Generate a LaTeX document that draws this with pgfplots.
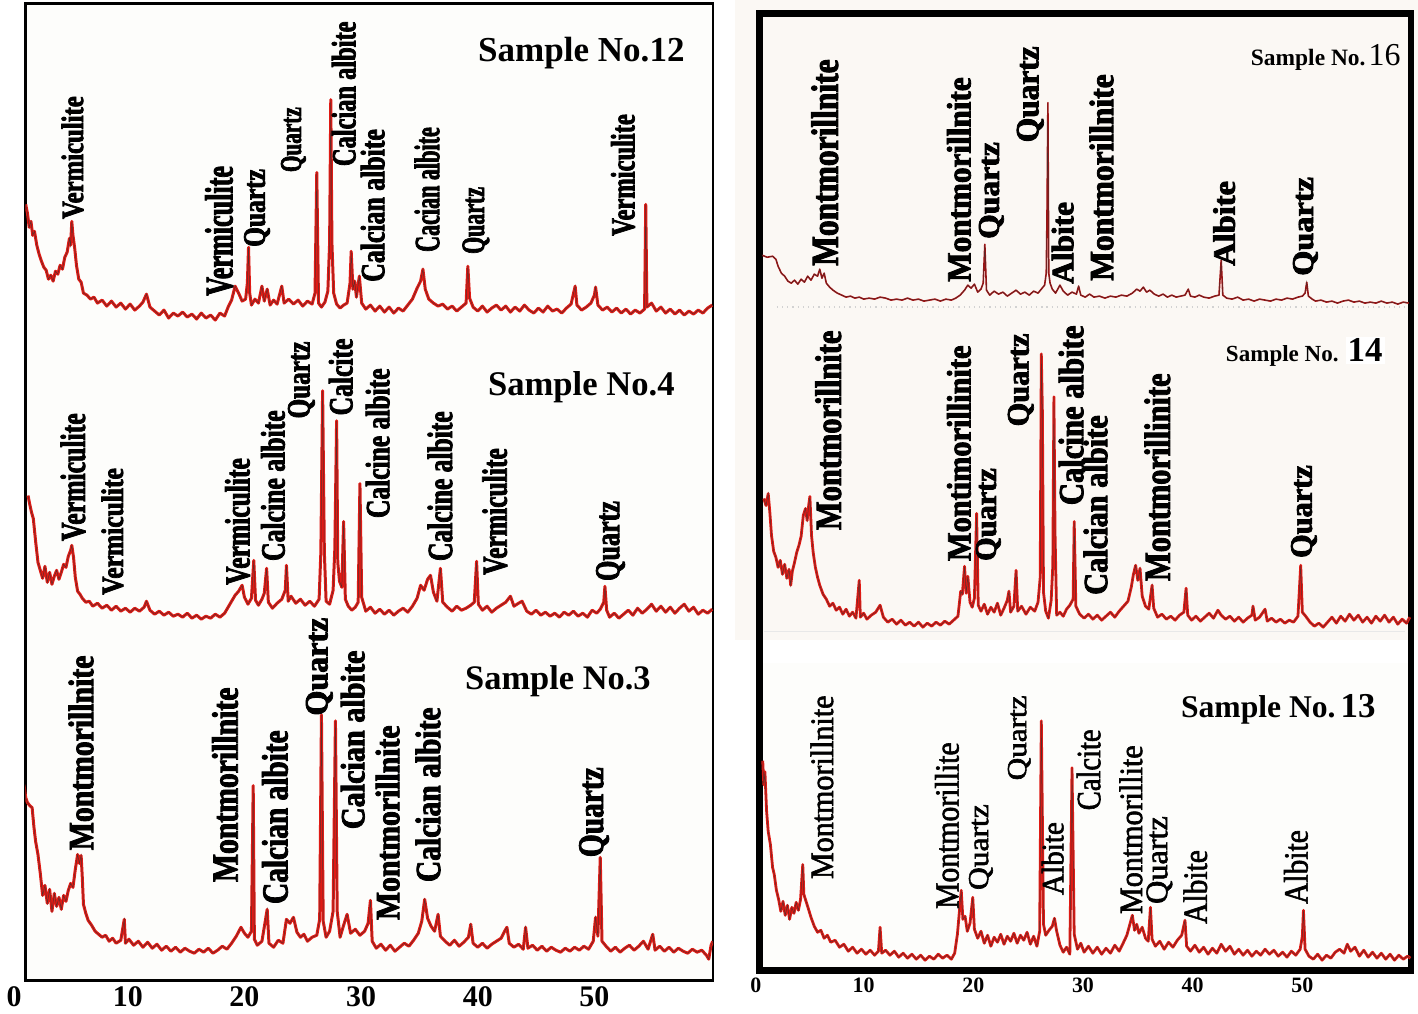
\documentclass[border=0pt]{standalone}
\usepackage{fontspec}
\setmainfont{Liberation Serif}
\newfontfamily\lf{Liberation Serif}[FakeStretch=0.75, BoldFeatures={FakeBold=2.2}]
\newfontfamily\lfr{Liberation Serif}[FakeStretch=0.75, FakeBold=1.6]
\usepackage{graphicx}
\usepackage{pgfplots}
\usepackage{pgfplotstable}
\pgfplotsset{compat=1.18}
\definecolor{trace}{HTML}{E01A14}
\definecolor{tracedk}{HTML}{B01010}
\definecolor{pinkbg}{HTML}{FBF8F4}
\definecolor{offw}{HTML}{FDFDFB}
\newdimen\PX \PX=0.5pt
% rotated peak labels: right edge x, bottom y, length, thickness (image px)
\newcommand{\lab}[5]{\node[rotate=90,anchor=south west,inner sep=0pt] at (#1,#2) {\resizebox*{#3\PX}{#4\PX}{\lf\bfseries #5}};}
\newcommand{\labr}[5]{\node[rotate=90,anchor=south west,inner sep=0pt] at (#1,#2) {\resizebox*{#3\PX}{#4\PX}{\lfr #5}};}
\newcommand{\ttl}[4]{\node[anchor=base west,inner sep=0pt] at (#1,#2) {\resizebox{#3\PX}{!}{\bfseries #4}};}

% ---- Sample 12 / 4 / 3 (left), 16 / 14 / 13 (right); x = 2theta, y = counts (arb.)
\pgfplotstableread[row sep=\\]{
x y\\
1.25 779\\ 1.4 770\\ 1.55 756\\ 1.7 762\\ 1.85 748\\ 2.0 752\\ 2.2 738\\ 2.4 729\\ 2.6 722\\ 2.8 716\\
3.0 713\\ 3.2 704\\ 3.4 708\\ 3.6 702\\ 3.8 712\\ 4.0 709\\ 4.2 718\\ 4.4 714\\ 4.6 726\\ 4.8 731\\
5.0 745\\ 5.1 738\\ 5.2 762\\ 5.3 748\\ 5.45 735\\ 5.6 718\\ 5.8 704\\ 6.0 701\\ 6.2 690\\ 6.5 688\\
6.8 684\\ 7.1 686\\ 7.4 680\\ 7.8 683\\ 8.2 677\\ 8.6 682\\ 9.0 676\\ 9.4 680\\ 9.8 674\\ 10.2 679\\
10.6 673\\ 11.0 677\\ 11.3 681\\ 11.6 689\\ 11.9 676\\ 12.3 672\\ 12.7 668\\ 13.1 673\\ 13.5 665\\ 13.9 670\\
14.3 667\\ 14.7 671\\ 15.1 666\\ 15.5 669\\ 15.9 664\\ 16.3 670\\ 16.7 665\\ 17.1 668\\ 17.5 663\\ 17.9 670\\
18.3 667\\ 18.6 676\\ 18.9 683\\ 19.2 697\\ 19.5 690\\ 19.8 682\\ 20.1 684\\ 20.25 700\\ 20.35 736\\ 20.45 690\\
20.6 678\\ 20.9 684\\ 21.2 680\\ 21.5 697\\ 21.7 682\\ 21.95 694\\ 22.2 678\\ 22.5 683\\ 22.8 679\\ 23.2 697\\
23.4 680\\ 23.8 684\\ 24.2 679\\ 24.6 683\\ 25.0 677\\ 25.4 682\\ 25.8 679\\ 26.05 690\\ 26.2 811\\ 26.35 680\\
26.6 676\\ 26.9 681\\ 27.15 692\\ 27.3 740\\ 27.4 884\\ 27.5 740\\ 27.65 690\\ 27.9 679\\ 28.2 675\\ 28.5 678\\
28.8 680\\ 29.05 700\\ 29.15 732\\ 29.3 694\\ 29.45 702\\ 29.6 686\\ 29.85 707\\ 30.05 680\\ 30.4 674\\ 30.8 678\\
31.2 672\\ 31.6 677\\ 32.0 671\\ 32.4 676\\ 32.8 670\\ 33.2 675\\ 33.6 672\\ 34.0 678\\ 34.4 684\\ 34.8 695\\
35.1 702\\ 35.3 714\\ 35.5 694\\ 35.8 684\\ 36.2 680\\ 36.6 677\\ 37.0 679\\ 37.4 674\\ 37.8 677\\ 38.2 672\\
38.6 676\\ 39.0 680\\ 39.15 717\\ 39.3 685\\ 39.6 676\\ 40.0 672\\ 40.4 677\\ 40.8 671\\ 41.2 675\\ 41.6 678\\
42.0 673\\ 42.4 677\\ 42.8 671\\ 43.2 676\\ 43.6 672\\ 44.0 678\\ 44.4 673\\ 44.8 670\\ 45.2 675\\ 45.6 671\\
46.0 677\\ 46.4 672\\ 46.8 674\\ 47.2 670\\ 47.6 675\\ 48.0 679\\ 48.35 697\\ 48.5 678\\ 48.9 673\\ 49.3 676\\
49.7 680\\ 50.0 688\\ 50.1 696\\ 50.3 678\\ 50.7 673\\ 51.1 676\\ 51.5 671\\ 51.9 675\\ 52.3 670\\ 52.7 674\\
53.1 669\\ 53.5 673\\ 53.9 670\\ 54.3 674\\ 54.4 779\\ 54.5 676\\ 54.9 680\\ 55.3 672\\ 55.7 676\\ 56.1 670\\
56.5 674\\ 56.9 669\\ 57.3 673\\ 57.7 668\\ 58.1 672\\ 58.5 669\\ 58.9 673\\ 59.3 670\\ 59.7 675\\ 60.1 678\\
}\Ltwelve

\pgfplotstableread[row sep=\\]{
x y\\
1.45 487\\ 1.6 478\\ 1.75 470\\ 1.9 464\\ 2.1 441\\ 2.3 420\\ 2.5 412\\ 2.7 404\\ 2.9 416\\ 3.1 400\\
3.3 410\\ 3.5 398\\ 3.7 406\\ 3.9 412\\ 4.1 403\\ 4.3 410\\ 4.5 418\\ 4.7 415\\ 4.9 426\\ 5.1 432\\
5.2 437\\ 5.35 425\\ 5.5 405\\ 5.7 391\\ 5.9 388\\ 6.1 384\\ 6.4 380\\ 6.7 381\\ 7.0 376\\ 7.4 379\\
7.8 374\\ 8.2 377\\ 8.6 372\\ 9.0 376\\ 9.4 371\\ 9.8 374\\ 10.2 370\\ 10.6 374\\ 11.0 371\\ 11.4 375\\
11.6 381\\ 11.9 372\\ 12.3 368\\ 12.7 371\\ 13.1 367\\ 13.5 370\\ 13.9 366\\ 14.3 368\\ 14.7 365\\ 15.1 369\\
15.5 364\\ 15.9 367\\ 16.3 363\\ 16.7 366\\ 17.1 364\\ 17.5 368\\ 17.9 365\\ 18.3 369\\ 18.6 375\\ 18.9 381\\
19.2 387\\ 19.5 391\\ 19.8 397\\ 20.0 385\\ 20.3 378\\ 20.6 384\\ 20.8 422\\ 20.95 382\\ 21.2 377\\ 21.5 383\\
21.7 389\\ 21.9 414\\ 22.05 380\\ 22.4 374\\ 22.8 379\\ 23.2 383\\ 23.5 392\\ 23.6 417\\ 23.75 381\\ 24.0 386\\
24.4 379\\ 24.8 383\\ 25.2 377\\ 25.6 381\\ 26.0 376\\ 26.4 383\\ 26.55 430\\ 26.7 592\\ 26.85 430\\ 27.0 381\\
27.3 378\\ 27.6 392\\ 27.75 434\\ 27.9 562\\ 28.0 420\\ 28.15 401\\ 28.35 395\\ 28.5 461\\ 28.65 383\\ 28.9 376\\
29.2 372\\ 29.5 375\\ 29.75 380\\ 29.9 499\\ 30.05 385\\ 30.4 371\\ 30.8 375\\ 31.2 369\\ 31.6 373\\ 32.0 368\\
32.4 372\\ 32.8 367\\ 33.2 371\\ 33.6 374\\ 34.0 370\\ 34.4 376\\ 34.8 384\\ 35.1 397\\ 35.4 392\\ 35.7 403\\
35.95 407\\ 36.2 390\\ 36.5 381\\ 36.8 414\\ 37.0 380\\ 37.4 375\\ 37.8 371\\ 38.2 376\\ 38.6 372\\ 39.0 374\\
39.4 377\\ 39.7 380\\ 39.9 421\\ 40.05 378\\ 40.4 372\\ 40.8 376\\ 41.2 370\\ 41.6 374\\ 42.0 377\\ 42.4 380\\
42.8 386\\ 43.1 376\\ 43.5 379\\ 43.8 381\\ 44.2 371\\ 44.6 368\\ 45.0 372\\ 45.4 367\\ 45.8 370\\ 46.2 366\\
46.6 369\\ 47.0 365\\ 47.4 370\\ 47.8 367\\ 48.2 371\\ 48.6 366\\ 49.0 369\\ 49.4 365\\ 49.8 372\\ 50.2 369\\
50.5 373\\ 50.8 380\\ 50.9 396\\ 51.05 372\\ 51.3 365\\ 51.7 369\\ 52.1 364\\ 52.5 368\\ 52.9 372\\ 53.3 367\\
53.7 374\\ 54.1 369\\ 54.5 373\\ 54.9 378\\ 55.3 371\\ 55.7 376\\ 56.1 370\\ 56.5 375\\ 56.9 369\\ 57.3 374\\
57.7 378\\ 58.1 371\\ 58.5 375\\ 58.9 368\\ 59.3 372\\ 59.7 369\\ 60.1 373\\
}\Lfour

\pgfplotstableread[row sep=\\]{
x y\\
1.1 197\\ 1.25 184\\ 1.4 179\\ 1.6 176\\ 1.8 174\\ 1.95 155\\ 2.1 140\\ 2.3 127\\ 2.5 108\\ 2.7 86\\
2.9 96\\ 3.1 78\\ 3.3 92\\ 3.5 70\\ 3.7 88\\ 3.9 75\\ 4.1 84\\ 4.3 72\\ 4.5 86\\ 4.7 80\\
4.9 91\\ 5.1 98\\ 5.3 94\\ 5.5 112\\ 5.7 127\\ 5.85 118\\ 6.0 126\\ 6.1 104\\ 6.2 77\\ 6.4 68\\
6.6 61\\ 6.9 56\\ 7.2 50\\ 7.5 47\\ 7.8 44\\ 8.1 46\\ 8.4 40\\ 8.7 43\\ 9.0 38\\ 9.4 41\\
9.7 62\\ 9.8 38\\ 10.1 42\\ 10.5 36\\ 10.9 40\\ 11.3 34\\ 11.7 39\\ 12.1 33\\ 12.5 37\\ 12.9 31\\
13.3 35\\ 13.7 30\\ 14.1 34\\ 14.5 29\\ 14.9 33\\ 15.3 30\\ 15.7 28\\ 16.1 32\\ 16.5 29\\ 16.9 33\\
17.3 28\\ 17.7 31\\ 18.1 35\\ 18.5 32\\ 18.9 38\\ 19.3 45\\ 19.7 54\\ 20.0 48\\ 20.3 44\\ 20.6 50\\
20.75 196\\ 20.85 42\\ 21.1 36\\ 21.5 40\\ 21.95 72\\ 22.1 38\\ 22.5 34\\ 22.9 41\\ 23.3 38\\ 23.6 62\\
23.9 58\\ 24.2 64\\ 24.5 49\\ 24.8 44\\ 25.1 47\\ 25.4 40\\ 25.8 44\\ 26.2 46\\ 26.45 62\\ 26.6 267\\
26.75 60\\ 27.0 44\\ 27.3 50\\ 27.6 70\\ 27.8 261\\ 27.95 70\\ 28.2 44\\ 28.5 56\\ 28.8 67\\ 29.1 48\\
29.5 52\\ 29.9 46\\ 30.3 50\\ 30.6 58\\ 30.8 81\\ 30.95 40\\ 31.3 33\\ 31.7 37\\ 32.1 31\\ 32.5 36\\
32.9 30\\ 33.3 34\\ 33.7 38\\ 34.1 35\\ 34.5 41\\ 34.9 48\\ 35.2 60\\ 35.45 82\\ 35.7 63\\ 36.0 55\\
36.3 50\\ 36.6 67\\ 36.8 45\\ 37.2 40\\ 37.6 36\\ 38.0 41\\ 38.4 35\\ 38.8 39\\ 39.2 44\\ 39.4 57\\
39.6 38\\ 40.0 34\\ 40.4 38\\ 40.8 33\\ 41.2 37\\ 41.6 40\\ 42.0 43\\ 42.3 50\\ 42.5 54\\ 42.7 38\\
43.1 34\\ 43.5 37\\ 43.9 32\\ 44.1 54\\ 44.3 33\\ 44.7 36\\ 45.1 31\\ 45.5 35\\ 45.9 30\\ 46.3 34\\
46.7 31\\ 47.1 29\\ 47.5 33\\ 47.9 30\\ 48.3 34\\ 48.7 31\\ 49.1 35\\ 49.5 32\\ 49.9 40\\ 50.1 64\\
50.3 45\\ 50.5 124\\ 50.65 40\\ 51.0 35\\ 51.4 30\\ 51.8 34\\ 52.2 29\\ 52.6 33\\ 53.0 36\\ 53.4 31\\
53.8 35\\ 54.2 40\\ 54.6 32\\ 55.0 47\\ 55.2 31\\ 55.6 35\\ 56.0 30\\ 56.4 34\\ 56.8 29\\ 57.2 33\\
57.6 30\\ 58.0 28\\ 58.4 32\\ 58.8 29\\ 59.2 31\\ 59.6 26\\ 59.8 22\\ 60.0 36\\ 60.15 40\\
}\Lthree

\pgfplotstableread[row sep=\\]{
x y\\
0.75 718\\ 1.2 716\\ 1.7 717\\ 2.0 714\\ 2.2 707\\ 2.5 700\\ 2.8 697\\ 3.1 692\\ 3.4 690\\ 3.7 693\\
4.0 689\\ 4.3 694\\ 4.6 691\\ 4.9 697\\ 5.2 693\\ 5.5 699\\ 5.8 697\\ 6.0 704\\ 6.2 695\\ 6.4 700\\
6.6 690\\ 6.9 686\\ 7.2 683\\ 7.6 680\\ 8.0 678\\ 8.4 676\\ 8.8 677\\ 9.2 675\\ 9.6 676\\ 10.0 674\\
10.5 675\\ 11.0 674\\ 11.5 676\\ 12.0 675\\ 12.5 673\\ 13.0 674\\ 13.5 673\\ 14.0 675\\ 14.5 673\\ 15.0 674\\
15.5 672\\ 16.0 673\\ 16.5 674\\ 17.0 672\\ 17.5 674\\ 18.0 673\\ 18.4 675\\ 18.8 678\\ 19.2 683\\ 19.5 688\\
19.8 685\\ 20.1 689\\ 20.4 681\\ 20.7 684\\ 20.9 690\\ 21.05 729\\ 21.2 683\\ 21.5 678\\ 21.9 682\\ 22.3 679\\
22.7 681\\ 23.1 677\\ 23.5 680\\ 23.9 683\\ 24.3 679\\ 24.7 681\\ 25.1 678\\ 25.5 682\\ 25.9 680\\ 26.2 684\\
26.5 688\\ 26.65 700\\ 26.72 760\\ 26.8 871\\ 26.88 700\\ 27.0 690\\ 27.2 684\\ 27.5 680\\ 27.9 688\\ 28.2 682\\
28.6 678\\ 29.0 681\\ 29.4 679\\ 29.6 687\\ 29.8 678\\ 30.2 676\\ 30.6 679\\ 31.0 676\\ 31.5 677\\ 32.0 675\\
32.5 677\\ 33.0 676\\ 33.5 678\\ 34.0 677\\ 34.5 680\\ 34.9 684\\ 35.2 682\\ 35.5 686\\ 35.8 681\\ 36.1 683\\
36.5 679\\ 36.9 677\\ 37.3 679\\ 37.7 676\\ 38.1 678\\ 38.5 676\\ 38.9 677\\ 39.3 678\\ 39.6 684\\ 39.8 677\\
40.2 676\\ 40.6 678\\ 41.0 676\\ 41.5 675\\ 42.0 677\\ 42.4 678\\ 42.6 713\\ 42.75 678\\ 43.1 675\\ 43.6 674\\
44.1 676\\ 44.6 673\\ 45.1 674\\ 45.6 672\\ 46.1 674\\ 46.6 673\\ 47.1 672\\ 47.6 674\\ 48.1 673\\ 48.6 675\\
49.1 674\\ 49.6 676\\ 50.0 677\\ 50.25 680\\ 50.4 691\\ 50.55 677\\ 50.9 674\\ 51.2 672\\ 51.7 673\\ 52.2 671\\
52.7 672\\ 53.2 670\\ 53.7 672\\ 54.2 673\\ 54.7 671\\ 55.2 672\\ 55.7 670\\ 56.2 671\\ 56.7 670\\ 57.2 672\\
57.7 670\\ 58.2 671\\ 58.7 669\\ 59.2 671\\ 59.7 670\\
}\Rsixteen

\pgfplotstableread[row sep=\\]{
x y\\
0.9 474\\ 1.1 467\\ 1.3 479\\ 1.45 460\\ 1.6 437\\ 1.8 421\\ 2.0 415\\ 2.2 405\\ 2.4 412\\ 2.6 398\\
2.8 408\\ 3.0 394\\ 3.2 403\\ 3.35 387\\ 3.5 401\\ 3.7 410\\ 3.9 420\\ 4.1 427\\ 4.3 436\\ 4.5 457\\
4.7 464\\ 4.85 452\\ 5.0 468\\ 5.1 476\\ 5.25 437\\ 5.4 420\\ 5.6 405\\ 5.8 395\\ 6.0 387\\ 6.3 378\\
6.6 373\\ 6.9 366\\ 7.2 369\\ 7.5 362\\ 7.8 365\\ 8.1 358\\ 8.4 363\\ 8.7 356\\ 9.0 360\\ 9.3 354\\
9.6 392\\ 9.7 355\\ 10.0 359\\ 10.3 353\\ 10.7 357\\ 11.1 360\\ 11.5 367\\ 11.8 355\\ 12.2 350\\ 12.6 353\\
13.0 348\\ 13.4 352\\ 13.8 347\\ 14.2 350\\ 14.6 346\\ 15.0 350\\ 15.4 345\\ 15.8 349\\ 16.2 346\\ 16.6 350\\
17.0 347\\ 17.4 351\\ 17.8 348\\ 18.2 352\\ 18.6 356\\ 18.85 381\\ 19.0 378\\ 19.2 406\\ 19.35 379\\ 19.5 396\\
19.7 370\\ 19.9 365\\ 20.1 374\\ 20.3 459\\ 20.45 367\\ 20.7 361\\ 21.0 368\\ 21.3 358\\ 21.6 365\\ 21.9 360\\
22.2 369\\ 22.5 357\\ 22.8 364\\ 23.1 372\\ 23.25 381\\ 23.4 360\\ 23.7 366\\ 23.9 402\\ 24.05 361\\ 24.4 366\\
24.8 358\\ 25.2 365\\ 25.6 361\\ 25.9 370\\ 26.1 395\\ 26.2 619\\ 26.3 560\\ 26.4 380\\ 26.6 361\\ 26.85 354\\
27.1 372\\ 27.25 407\\ 27.35 576\\ 27.45 440\\ 27.6 357\\ 27.9 360\\ 28.2 356\\ 28.5 363\\ 28.8 367\\ 29.1 373\\
29.2 451\\ 29.35 366\\ 29.7 358\\ 30.1 354\\ 30.5 358\\ 30.9 353\\ 31.3 357\\ 31.7 352\\ 32.1 356\\ 32.5 360\\
32.9 355\\ 33.3 361\\ 33.7 366\\ 34.1 371\\ 34.4 385\\ 34.6 398\\ 34.8 407\\ 35.0 392\\ 35.2 404\\ 35.4 376\\
35.7 366\\ 36.0 363\\ 36.3 387\\ 36.45 364\\ 36.8 355\\ 37.2 358\\ 37.6 353\\ 38.0 356\\ 38.4 352\\ 38.8 357\\
39.2 360\\ 39.4 384\\ 39.55 357\\ 39.9 352\\ 40.3 356\\ 40.7 351\\ 41.1 355\\ 41.5 359\\ 41.9 354\\ 42.3 362\\
42.6 357\\ 43.0 353\\ 43.4 356\\ 43.8 351\\ 44.2 355\\ 44.6 350\\ 45.0 354\\ 45.4 357\\ 45.5 366\\ 45.7 352\\
46.1 355\\ 46.6 363\\ 46.8 351\\ 47.2 354\\ 47.6 350\\ 48.0 353\\ 48.4 349\\ 48.8 352\\ 49.2 350\\ 49.6 356\\
49.85 407\\ 50.0 360\\ 50.3 356\\ 50.7 350\\ 51.1 346\\ 51.5 349\\ 51.9 345\\ 52.3 350\\ 52.7 355\\ 53.1 349\\
53.5 356\\ 53.9 351\\ 54.3 358\\ 54.7 352\\ 55.1 357\\ 55.5 350\\ 55.9 355\\ 56.3 349\\ 56.7 356\\ 57.1 351\\
57.5 357\\ 57.9 350\\ 58.3 355\\ 58.7 348\\ 59.1 353\\ 59.5 349\\ 59.8 355\\
}\Rfourteen

\pgfplotstableread[row sep=\\]{
x y\\
0.8 211\\ 0.9 187\\ 1.0 200\\ 1.15 161\\ 1.3 140\\ 1.5 127\\ 1.7 104\\ 1.85 97\\ 2.05 81\\ 2.25 72\\
2.45 60\\ 2.65 70\\ 2.85 56\\ 3.05 66\\ 3.25 52\\ 3.45 64\\ 3.65 58\\ 3.85 69\\ 4.05 61\\ 4.25 72\\
4.45 107\\ 4.55 77\\ 4.75 70\\ 4.95 63\\ 5.2 54\\ 5.5 45\\ 5.8 39\\ 6.1 41\\ 6.4 33\\ 6.7 36\\
7.0 29\\ 7.4 31\\ 7.8 24\\ 8.2 27\\ 8.6 20\\ 9.0 24\\ 9.4 18\\ 9.8 22\\ 10.2 17\\ 10.6 21\\
11.0 16\\ 11.35 20\\ 11.5 44\\ 11.65 18\\ 12.0 21\\ 12.4 16\\ 12.8 20\\ 13.2 14\\ 13.6 18\\ 14.0 13\\
14.4 17\\ 14.8 12\\ 15.2 16\\ 15.6 11\\ 16.0 15\\ 16.4 12\\ 16.8 17\\ 17.2 13\\ 17.6 16\\ 18.0 12\\
18.3 18\\ 18.55 37\\ 18.75 62\\ 18.9 81\\ 19.05 52\\ 19.25 55\\ 19.45 40\\ 19.7 48\\ 19.95 74\\ 20.1 42\\
20.4 33\\ 20.7 40\\ 21.0 28\\ 21.3 36\\ 21.6 25\\ 21.9 34\\ 22.2 29\\ 22.5 37\\ 22.8 27\\ 23.1 35\\
23.4 30\\ 23.7 38\\ 24.0 28\\ 24.3 36\\ 24.6 31\\ 24.9 39\\ 25.2 27\\ 25.5 35\\ 25.8 25\\ 26.05 40\\
26.2 251\\ 26.3 150\\ 26.4 47\\ 26.6 36\\ 26.9 41\\ 27.2 45\\ 27.4 53\\ 27.6 40\\ 27.9 26\\ 28.2 19\\
28.5 24\\ 28.8 17\\ 29.0 204\\ 29.1 120\\ 29.2 37\\ 29.5 22\\ 29.8 28\\ 30.1 19\\ 30.5 25\\ 30.9 18\\
31.3 24\\ 31.7 17\\ 32.1 23\\ 32.5 18\\ 32.9 26\\ 33.3 20\\ 33.7 29\\ 34.0 36\\ 34.3 48\\ 34.5 56\\
34.7 41\\ 34.9 47\\ 35.1 38\\ 35.4 44\\ 35.7 33\\ 35.95 30\\ 36.15 64\\ 36.3 32\\ 36.6 25\\ 37.0 30\\
37.4 22\\ 37.8 29\\ 38.2 24\\ 38.6 31\\ 39.0 36\\ 39.3 51\\ 39.45 25\\ 39.8 20\\ 40.2 26\\ 40.6 19\\
41.0 24\\ 41.4 17\\ 41.8 23\\ 42.2 18\\ 42.6 27\\ 43.0 20\\ 43.4 25\\ 43.8 17\\ 44.2 22\\ 44.6 16\\
45.0 21\\ 45.4 15\\ 45.8 20\\ 46.2 16\\ 46.6 22\\ 47.0 17\\ 47.4 21\\ 47.8 15\\ 48.2 19\\ 48.6 14\\
49.0 20\\ 49.4 16\\ 49.8 22\\ 50.0 35\\ 50.1 61\\ 50.25 22\\ 50.6 15\\ 51.0 12\\ 51.4 17\\ 51.8 11\\
52.2 16\\ 52.6 13\\ 53.0 19\\ 53.4 22\\ 53.8 18\\ 54.1 27\\ 54.4 20\\ 54.8 24\\ 55.2 15\\ 55.6 21\\
56.0 14\\ 56.4 19\\ 56.8 13\\ 57.2 18\\ 57.6 12\\ 58.0 17\\ 58.4 11\\ 58.8 16\\ 59.2 12\\ 59.6 15\\
59.85 13\\
}\Rthirteen

\pgfplotsset{
  xrd/.style={scale only axis, ytick=\empty, xtick={10,20,30,40,50},
    xticklabels={10,20,30,40,50}, major tick length=0pt, clip=true},
  tr/.style={trace, line width=1.5pt, line join=round},
  tb/.style={black!80, line width=0.25pt, opacity=0.75},
}

\begin{document}
\begin{tikzpicture}
\begin{scope}[x=0.5pt,y=-0.5pt]
  \useasboundingbox (0,0) rectangle (1418,1015);
  \fill[white] (0,0) rectangle (1418,1015);
  \fill[pinkbg] (733,0) rectangle (1418,642);
  \fill[offw] (757,665) rectangle (1411,973);
  \fill[offw] (21,4) rectangle (711,983);
  \draw[gray!35, dotted, line width=0.6pt] (775,308) -- (1405,308);
  \draw[gray!18, line width=0.6pt] (762,633) -- (1405,633);
\end{scope}

% left panel: 12, 4, 3
\begin{axis}[xrd, at={(10.65pt,-491.75pt)}, anchor=south west,
  width=344.85pt, height=490pt, xmin=1.2222, xmax=60.171, ymin=0.5, ymax=980.5,
  axis line style={line width=1.35pt},
  xticklabel style={font=\fontsize{15}{15}\selectfont\bfseries, inner sep=0pt, yshift=-3pt}]
  \addplot[tr] table {\Ltwelve};   \addplot[tb] table {\Ltwelve};
  \addplot[tr] table {\Lfour};     \addplot[tb] table {\Lfour};
  \addplot[tr] table {\Lthree};    \addplot[tb] table {\Lthree};
\end{axis}

% right panel: 16, 14, 13
\begin{axis}[xrd, at={(378.75pt,-486.75pt)}, anchor=south west,
  width=326.75pt, height=480pt, xmin=0.5, xmax=59.909, ymin=0.5, ymax=960.5,
  axis line style={line width=3.25pt},
  xticklabel style={font=\fontsize{11}{11}\selectfont\bfseries, inner sep=0pt, yshift=-3.6pt}]
  \addplot[tracedk, line width=0.8pt, line join=round] table {\Rsixteen};
  \addplot[tb] table {\Rsixteen};
  \addplot[tr, line width=1.4pt] table {\Rfourteen};  \addplot[tb] table {\Rfourteen};
  \addplot[tr, line width=1.4pt] table {\Rthirteen};  \addplot[tb] table {\Rthirteen};
\end{axis}

\begin{scope}[x=0.5pt,y=-0.5pt]
  \node[font=\fontsize{15}{15}\selectfont\bfseries] at (10,1000) {0};
  \node[font=\fontsize{11}{11}\selectfont\bfseries] at (754,988) {0};
  % Sample 12
  \ttl{475}{62}{207}{Sample No.12}
  \lab{80}{220}{123}{22}{Vermiculite}
  \lab{230}{297}{130}{28}{Vermiculite}
  \lab{267}{248}{78}{26}{Quartz}
  \lab{303}{173}{65}{25}{Quartz}
  \lab{353}{167}{145}{24}{Calcian albite}
  \lab{382}{283}{153}{24}{Calcian albite}
  \lab{437}{253}{125}{25}{Cacian albite}
  \lab{487}{255}{67}{27}{Quartz}
  \lab{633}{237}{122}{24}{Vermiculite}
  % Sample 4
  \ttl{485}{397}{187}{Sample No.4}
  \lab{82}{543}{128}{25}{Vermiculite}
  \lab{120}{597}{127}{22}{Vermiculite}
  \lab{247}{587}{127}{25}{Vermiculite}
  \lab{282}{563}{151}{24}{Calcine albite}
  \lab{312}{420}{77}{27}{Quartz}
  \lab{350}{417}{77}{24}{Calcite}
  \lab{387}{520}{150}{24}{Calcine albite}
  \lab{450}{563}{150}{25}{Calcine albite}
  \lab{505}{577}{127}{25}{Vermiculite}
  \lab{623}{583}{80}{29}{Quartz}
  % Sample 3
  \ttl{462}{692}{186}{Sample No.3}
  \lab{90}{853}{195}{25}{Montmorillnite}
  \lab{235}{885}{195}{26}{Montmorillnite}
  \lab{285}{907}{174}{26}{Calcian albite}
  \lab{330}{718}{98}{27}{Quartz}
  \lab{362}{832}{179}{24}{Calcian albite}
  \lab{397}{923}{195}{24}{Montmorillnite}
  \lab{438}{885}{175}{25}{Calcian albite}
  \lab{607}{860}{90}{30}{Quartz}
  % Sample 16
  \ttl{1250}{66}{115}{Sample No.}
  \node[anchor=base west,inner sep=0pt] at (1368,66) {\resizebox{32\PX}{!}{16}};
  \lab{837}{267}{207}{27}{Montmorillnite}
  \lab{970}{283}{205}{24}{Montmorillnite}
  \lab{1003}{240}{97}{25}{Quartz}
  \lab{1043}{143}{96}{27}{Quartz}
  \lab{1073}{285}{82}{22}{Albite}
  \lab{1113}{282}{207}{24}{Montmorillnite}
  \lab{1235}{267}{85}{22}{Albite}
  \lab{1318}{277}{99}{25}{Quartz}
  % Sample 14
  \ttl{1225}{363}{113}{Sample No.}
  \node[anchor=base west,inner sep=1pt,fill=white] at (1345,363) {\resizebox{35\PX}{!}{\bfseries 14}};
  \lab{840}{532}{200}{26}{Montmorillnite}
  \lab{970}{563}{216}{24}{Montimorillinite}
  \lab{1000}{563}{93}{25}{Quartz}
  \lab{1033}{428}{93}{26}{Quartz}
  \lab{1083}{507}{180}{25}{Calcine albite}
  \lab{1107}{597}{180}{24}{Calcian albite}
  \lab{1170}{583}{208}{26}{Montmorillinite}
  \lab{1317}{560}{93}{26}{Quartz}
  % Sample 13
  \ttl{1180}{720}{155}{Sample No.}
  \node[anchor=base west,inner sep=0pt] at (1340,720) {\resizebox{35\PX}{!}{\bfseries 13}};
  \labr{832}{882}{184}{23}{Montmorillnite}
  \labr{958}{912}{167}{24}{Montmorillite}
  \labr{992}{893}{86}{24}{Quartz}
  \labr{1030}{783}{85}{23}{Quartz}
  \labr{1063}{898}{73}{22}{Albite}
  \labr{1100}{813}{81}{24}{Calcite}
  \labr{1142}{917}{169}{23}{Montmorillite}
  \labr{1172}{907}{88}{26}{Quartz}
  \labr{1207}{927}{74}{24}{Albite}
  \labr{1308}{907}{74}{24}{Albite}
\end{scope}
\end{tikzpicture}
\end{document}
